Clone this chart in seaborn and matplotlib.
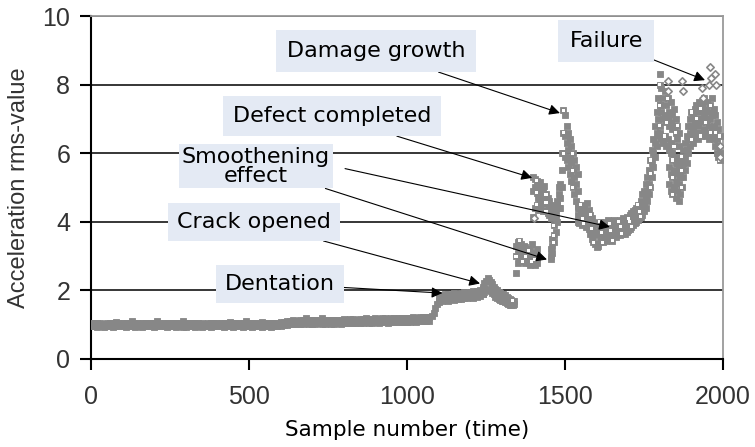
import numpy as np
import pandas as pd
import matplotlib
matplotlib.use("Agg")
import matplotlib.pyplot as plt
import seaborn as sns

# ---------------- data ----------------
# baseline, samples 0..1070 every 10
base_hi = [1.05,1.04,1.06,1.05,1.03,1.06,1.05,1.04,1.07,1.05,1.04,1.06,1.05,1.12,1.05,1.04,1.06,1.05,1.04,1.06,
           1.05,1.10,1.05,1.04,1.06,1.05,1.04,1.06,1.05,1.12,1.04,1.05,1.06,1.04,1.05,1.06,1.03,1.05,1.06,1.04,
           1.05,1.06,1.04,1.05,1.07,1.05,1.04,1.06,1.05,1.10,1.05,1.06,1.04,1.05,1.07,1.05,1.06,1.04,1.05,1.06,
           1.07,1.08,1.10,1.12,1.13,1.12,1.14,1.13,1.18,1.14,1.13,1.15,1.14,1.18,1.14,1.13,1.15,1.14,1.13,1.15,
           1.16,1.15,1.17,1.16,1.15,1.17,1.16,1.18,1.17,1.16,1.18,1.17,1.19,1.18,1.17,1.19,1.18,1.20,1.19,1.18,
           1.20,1.19,1.21,1.20,1.22,1.21,1.22,1.23]
base_lo = [0.95,0.96,0.94,0.95,0.93,0.95,0.96,0.94,0.95,0.96,0.95,0.94,0.95,0.96,0.94,0.95,0.93,0.95,0.96,0.95,
           0.94,0.95,0.96,0.95,0.94,0.95,0.96,0.94,0.95,0.93,0.94,0.95,0.96,0.94,0.95,0.93,0.95,0.96,0.94,0.95,
           0.96,0.95,0.94,0.96,0.95,0.94,0.96,0.95,0.94,0.96,0.95,0.93,0.95,0.96,0.94,0.95,0.96,0.94,0.95,0.96,
           0.97,0.98,1.00,1.02,1.03,1.02,1.01,1.03,1.04,1.02,1.03,1.01,1.04,1.03,1.02,1.04,1.03,1.02,1.04,1.03,
           1.05,1.04,1.06,1.05,1.04,1.06,1.05,1.07,1.06,1.05,1.07,1.06,1.08,1.07,1.06,1.08,1.07,1.09,1.08,1.07,
           1.09,1.08,1.10,1.09,1.11,1.10,1.11,1.12]
# jump, samples 1080..1100 every 5
jump_y = [1.25,1.35,1.50,1.60,1.70]
# dentation plateau, 1100..1240 every 10
dent_hi = [1.80,1.85,1.88,1.90,1.86,1.92,1.90,1.93,1.95,1.92,1.96,1.98,1.97,2.00,2.05]
dent_lo = [1.65,1.68,1.72,1.70,1.74,1.72,1.76,1.75,1.78,1.77,1.80,1.79,1.82,1.84,1.88]
# crack peak, 1240..1340 every 5
peak_hi = [2.10,2.20,2.28,2.35,2.30,2.25,2.18,2.10,2.05,2.00,1.95,1.92,1.90,1.88,1.85,1.80,1.78,1.75,1.72,1.70,1.68]
peak_lo = [1.90,1.95,2.00,2.05,2.02,1.98,1.92,1.88,1.82,1.78,1.75,1.72,1.70,1.68,1.65,1.62,1.60,1.58,1.56,1.58,1.60]
# cluster after crack, 1345..1410 every 5
crack_a = [3.30,3.40,3.45,3.35,3.20,3.30,3.25,3.10,3.15,3.20,3.35,3.10,3.00,3.20]
crack_b = [3.00,3.10,3.15,3.05,3.00,3.10,3.00,2.95,3.00,3.05,3.10,2.95,2.90,2.95]
crack_c = [2.50,2.80,2.85,2.90,2.85,2.95,2.80,2.85,2.80,2.75,2.85,2.80,2.75,2.80]
# defect completed cluster, 1400..1455 every 5
defect_a = [5.30,5.25,5.20,5.10,5.15,5.00,4.90,5.05,4.80,4.70,4.60,4.50]
defect_b = [4.90,5.00,4.85,4.70,4.90,4.75,4.60,4.80,4.55,4.50,4.40,4.35]
defect_c = [4.15,4.40,4.50,4.35,4.60,4.45,4.30,4.55,4.30,4.25,4.20,4.10]
# steep column, 1455..1480 every 5
col_a = [3.20,3.50,3.90,4.30,4.60,5.00]
col_b = [2.90,3.10,3.40,3.70,4.00,4.40]
col_c = [3.00,3.30,3.60,4.10,4.50,4.80]
# damage growth, 1485..1540 every 5
growth_a = [5.10,6.00,7.25,7.10,6.80,6.60,6.40,6.20,6.00,5.80,5.60,5.40]
growth_b = [4.70,5.50,6.60,6.50,6.30,6.10,5.90,5.70,5.50,5.30,5.10,4.90]
growth_c = [4.40,5.00,6.00,5.90,5.80,5.60,5.40,5.20,5.00,4.80,4.60,4.40]
# trough, 1540..1740 every 5
trough_a = [4.45,4.40,4.50,4.35,4.40,4.30,4.55,4.35,4.20,4.10,4.00,3.95,3.90,3.95,4.00,3.95,3.90,4.00,3.95,4.05,
            3.95,4.00,3.90,4.05,3.95,3.90,4.00,4.05,4.00,4.10,4.05,4.15,4.10,4.20,4.25,4.30,4.35,4.40,4.50,4.45,4.60]
trough_b = [4.20,4.15,4.25,4.10,4.15,4.05,4.20,4.00,3.90,3.80,3.70,3.65,3.60,3.70,3.75,3.70,3.65,3.75,3.70,3.80,
            3.70,3.75,3.65,3.80,3.70,3.75,3.80,3.85,3.80,3.90,3.85,3.90,3.95,4.00,4.05,4.10,4.15,4.20,4.25,4.30,4.35]
trough_c = [4.00,3.95,4.05,3.90,3.95,3.85,4.00,3.80,3.65,3.50,3.40,3.35,3.25,3.30,3.40,3.45,3.40,3.50,3.45,3.55,
            3.50,3.55,3.45,3.60,3.55,3.60,3.65,3.60,3.65,3.70,3.65,3.70,3.75,3.80,3.85,3.90,3.95,4.00,4.05,4.10,4.15]
# second rise, 1745..1800 every 5
rise_a = [4.80,4.90,5.10,5.30,5.50,5.80,6.10,6.40,6.80,7.20,7.60,8.00]
rise_b = [4.40,4.50,4.70,4.90,5.10,5.40,5.70,6.00,6.30,6.60,7.00,7.40]
rise_c = [4.20,4.30,4.40,4.60,4.80,5.00,5.30,5.60,5.90,6.20,6.50,6.80]
# top cluster, 1800..1860 every 5
top_a = [8.30,7.90,7.60,7.80,7.40,7.60,7.20,7.50,7.10,7.30,7.00,6.80,6.60]
top_b = [7.40,7.20,7.00,7.10,6.90,7.00,6.80,6.90,6.70,6.80,6.60,6.40,6.20]
top_c = [6.60,6.40,6.30,6.50,6.20,6.40,6.10,6.30,6.00,6.20,5.90,5.70,5.50]
# dip lobe, 1830..1885 every 5
dip_a = [6.20,6.00,5.80,5.90,5.70,5.80,5.60,5.70,5.90,6.10,6.30,6.50]
dip_b = [5.60,5.40,5.30,5.50,5.20,5.40,5.10,5.30,5.50,5.70,5.90,6.10]
dip_c = [5.10,4.90,4.80,5.00,4.70,4.90,4.60,4.80,5.00,5.30,5.50,5.70]
# final cluster, 1890..1990 every 5
final_a = [6.80,7.00,7.20,7.10,7.30,7.40,7.20,7.50,7.30,7.40,7.60,7.30,7.50,7.20,7.40,7.60,7.30,7.10,6.90,6.70,6.50]
final_b = [6.40,6.60,6.80,6.70,6.90,7.00,6.80,7.00,6.90,7.00,7.10,6.90,7.00,6.80,7.00,7.10,6.80,6.60,6.40,6.20,6.00]
final_c = [6.00,6.20,6.40,6.30,6.50,6.60,6.40,6.60,6.50,6.60,6.70,6.50,6.60,6.40,6.60,6.70,6.40,6.20,6.00,5.90,5.80]
# scattered single readings
loose_x = [1825, 1827, 1870, 1872, 1935, 1937, 1955, 1960, 1962, 1975, 1977, 1990, 1992, 1402]
loose_y = [8.10, 7.80, 8.10, 7.80, 7.90, 7.60, 8.00, 8.50, 8.20, 8.30, 8.00, 6.20, 5.90, 4.10]

segments = [
    (0, 10, [base_hi, base_lo]),
    (1080, 5, [jump_y]),
    (1100, 10, [dent_hi, dent_lo]),
    (1240, 5, [peak_hi, peak_lo]),
    (1345, 5, [crack_a, crack_b, crack_c]),
    (1400, 5, [defect_a, defect_b, defect_c]),
    (1455, 5, [col_a, col_b, col_c]),
    (1485, 5, [growth_a, growth_b, growth_c]),
    (1540, 5, [trough_a, trough_b, trough_c]),
    (1745, 5, [rise_a, rise_b, rise_c]),
    (1800, 5, [top_a, top_b, top_c]),
    (1830, 5, [dip_a, dip_b, dip_c]),
    (1890, 5, [final_a, final_b, final_c]),
]
xs, ys = [], []
for start, step, lists in segments:
    for vals in lists:
        xs.extend(start + step * np.arange(len(vals)))
        ys.extend(vals)
main = pd.DataFrame({"sample": xs, "rms": ys})
loose = pd.DataFrame({"sample": loose_x, "rms": loose_y})
speckle = main[main["sample"] > 1330].iloc[::6]

x_ticks = [0, 500, 1000, 1500, 2000]
y_ticks = [0, 2, 4, 6, 8, 10]

# ---------------- figure ----------------
sns.set_style("white")
plt.rcParams["font.family"] = ["DejaVu Sans"]

fig = plt.figure(figsize=(7.55, 4.47), dpi=100)
ax = fig.add_axes([0.1205, 0.197, 0.8371, 0.7672])

ax.set_axisbelow(True)
ax.yaxis.grid(True, color="black", linewidth=1.1)
ax.xaxis.grid(False)

gray = "#878787"
sns.scatterplot(data=main, x="sample", y="rms", ax=ax, marker="s", s=14,
                color=gray, edgecolor=gray, linewidth=0.6, zorder=3, legend=False)
sns.scatterplot(data=speckle, x="sample", y="rms", ax=ax, marker="s", s=5,
                color="white", edgecolor="none", linewidth=0, zorder=3, legend=False)
sns.scatterplot(data=loose, x="sample", y="rms", ax=ax, marker="D", s=14,
                facecolor="white", edgecolor=gray, linewidth=1.2, zorder=3, legend=False)

ax.set_xlim(0, 2000)
ax.set_ylim(0, 10)
ax.set_xticks(x_ticks)
ax.set_yticks(y_ticks)
ax.set_xticklabels([str(v) for v in x_ticks], family="Liberation Sans", fontsize=18, color="#333333")
ax.set_yticklabels([str(v) for v in y_ticks], family="Liberation Sans", fontsize=18, color="#333333")
ax.tick_params(axis="x", bottom=True, direction="out", length=8, width=1.5, color="black", pad=11)
ax.tick_params(axis="y", left=True, direction="out", length=8, width=1.5, color="black", pad=7)

for side in ("left", "bottom"):
    ax.spines[side].set_color("black")
    ax.spines[side].set_linewidth(1.5)
for side in ("top", "right"):
    ax.spines[side].set_color("#9a9a9a")
    ax.spines[side].set_linewidth(1.3)

ax.set_xlabel("Sample number (time)", fontsize=15.5, color="black", labelpad=8)
ax.set_ylabel("Acceleration rms-value", family="Liberation Sans", fontsize=17,
              color="#333333", labelpad=9)

box_fc = "#e4eaf4"
arrow = dict(arrowstyle="-|>", color="black", lw=0.8, mutation_scale=16, shrinkA=0, shrinkB=0)

def label(text, xytext, xy, pad=0.5, **kw):
    ax.annotate(text, xy=xy, xytext=xytext, textcoords="data", xycoords="data",
                ha="center", va="center", fontsize=16, color="black",
                bbox=dict(boxstyle=f"square,pad={pad}", fc=box_fc, ec="none"),
                arrowprops=arrow, zorder=5, **kw)

label("Damage growth", (902, 8.98), (1484, 7.17))
label("Failure", (1630, 9.27), (1943, 8.13), pad=0.5)
label("Defect completed", (763, 7.08), (1396, 5.28), pad=0.45)
label("Smoothening\neffect", (522, 5.62), (1443, 2.9), pad=0.12, linespacing=0.95)
ax.annotate("", xy=(1642, 3.85), xytext=(804, 5.55), arrowprops=arrow, zorder=5)
label("Crack opened", (516, 3.99), (1231, 2.2), pad=0.4)
label("Dentation", (598, 2.19), (1112, 1.92), pad=0.4)

fig.savefig("out.png", dpi=100)
